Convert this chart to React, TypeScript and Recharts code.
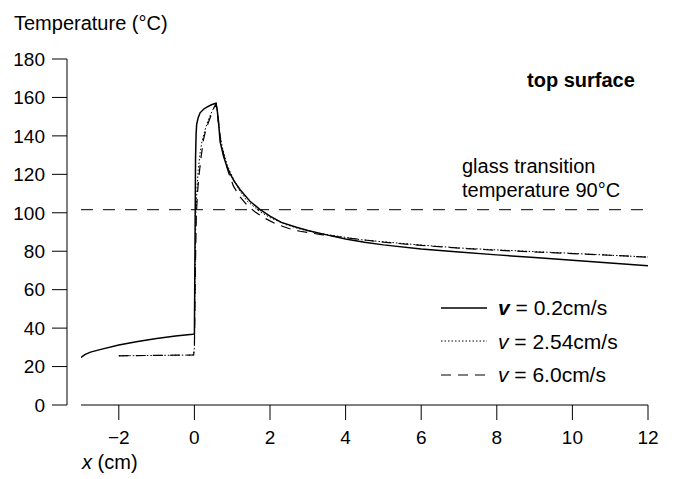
import { LineChart, Line, XAxis, YAxis, ReferenceLine, Legend } from "recharts";

const FONT = "'Liberation Sans', Arial, sans-serif";

// x positions (cm) and top-surface temperatures (°C)
const X_SLOW = [-3, -2.9, -2.75, -2.5, -2, -1.5, -1, -0.5, -0.05, 0, 0.015, 0.03, 0.045, 0.06, 0.1, 0.15, 0.25, 0.33, 0.45, 0.57, 0.6, 0.64, 0.68, 0.77, 0.86, 0.94, 1.05, 1.21, 1.47, 1.73, 2.0, 2.3, 2.7, 3.0, 3.5, 4, 4.5, 5, 6, 7, 8, 9, 10, 11, 12];
const T_SLOW = [24.7, 26.2, 27.5, 28.8, 31.2, 33.0, 34.6, 35.9, 36.8, 37.0, 80, 128, 141, 146, 149.5, 152, 154, 155, 156.2, 157, 154, 147, 137, 129.5, 124, 120.5, 116.5, 112, 106, 101.8, 98.3, 95, 92.5, 90.8, 88.5, 86.4, 84.7, 83.3, 81.2, 79.6, 78.1, 76.7, 75.3, 73.9, 72.5];

const X_MID = [-2, -1, -0.5, -0.02, 0, 0.02, 0.04, 0.07, 0.1, 0.15, 0.2, 0.28, 0.36, 0.46, 0.55, 0.58, 0.62, 0.68, 0.75, 0.85, 0.95, 1.05, 1.2, 1.4, 1.74, 2.0, 2.4, 2.8, 3.3, 4, 4.4, 5, 6, 7, 8, 9, 10, 11, 12];
const T_MID = [25.6, 25.8, 25.9, 26.0, 30, 75, 100, 113, 122, 131, 137, 143, 148, 152.5, 156, 157, 150, 140, 133, 126, 121, 117, 111.5, 106, 100.5, 97.5, 94, 91.5, 89.3, 87.2, 86, 84.9, 83.2, 81.7, 80.7, 79.8, 78.9, 77.9, 77];

const X_FAST = [-2, -1, -0.5, -0.02, 0, 0.025, 0.05, 0.08, 0.12, 0.17, 0.24, 0.3, 0.37, 0.5, 0.57, 0.6, 0.64, 0.7, 0.8, 0.9, 1.03, 1.2, 1.39, 1.6, 1.83, 2.18, 2.5, 2.79, 3.4, 4, 5, 6, 7, 8, 9, 10, 11, 12];
const T_FAST = [25.6, 25.8, 25.9, 26.0, 30, 70, 98, 110, 119, 128, 138, 143, 147, 154, 156.5, 153, 146, 137, 128, 121, 114, 108.5, 104, 100.5, 97.5, 94, 91.8, 90.4, 88.5, 87, 84.7, 83, 81.6, 80.5, 79.6, 78.8, 77.9, 76.9];

const X_TICKS = [-2, 0, 2, 4, 6, 8, 10, 12];
const Y_TICKS = [0, 20, 40, 60, 80, 100, 120, 140, 160, 180];
const GLASS_LINE = 101.6;

const toPoints = (xs: number[], ts: number[]) => xs.map((x, i) => ({ x, t: ts[i] }));

const series = [
  { name: "0.2cm/s", data: toPoints(X_SLOW, T_SLOW), dash: undefined, width: 1.5, bold: true },
  { name: "2.54cm/s", data: toPoints(X_MID, T_MID), dash: "1.5 2", width: 1, bold: false },
  { name: "6.0cm/s", data: toPoints(X_FAST, T_FAST), dash: "10 7", width: 1.2, bold: false },
];

const fmtX = (v: number) => (v < 0 ? `\u2212${Math.abs(v)}` : `${v}`);

const renderLegend = () => (
  <div style={{ fontFamily: FONT, fontSize: 21, color: "#000" }}>
    {series.map((s) => (
      <div key={s.name} style={{ display: "flex", alignItems: "center", height: 33.5 }}>
        <svg width={46} height={10}>
          <line x1={0} y1={5} x2={46} y2={5} stroke="#000" strokeWidth={s.width} strokeDasharray={s.dash} />
        </svg>
        <span style={{ marginLeft: 11, lineHeight: 1 }}>
          <i style={{ fontWeight: s.bold ? "bold" : "normal" }}>v</i> = {s.name}
        </span>
      </div>
    ))}
  </div>
);

const text = { position: "absolute" as const, fontFamily: FONT, fontSize: 20, lineHeight: "20px", color: "#000", whiteSpace: "nowrap" as const };

export default function App() {
  return (
    <div style={{ position: "absolute", left: 0, top: 0, width: 677, height: 479, background: "#fff" }}>
      <LineChart width={677} height={479} margin={{ top: 59, right: 29, bottom: 44, left: 7 }}>
        <XAxis
          type="number"
          dataKey="x"
          domain={[-3, 12]}
          ticks={X_TICKS}
          padding={{ left: 14, right: 0 }}
          axisLine={false}
          tickLine={{ stroke: "#000" }}
          tickSize={15}
          tickMargin={11}
          tick={{ fill: "#000", fontSize: 19, fontFamily: FONT }}
          tickFormatter={fmtX}
          height={30}
          allowDataOverflow
        />
        <YAxis
          type="number"
          domain={[0, 180]}
          ticks={Y_TICKS}
          width={60}
          axisLine={{ stroke: "#000" }}
          tickLine={{ stroke: "#000" }}
          tickSize={15}
          tickMargin={7}
          tick={{ fill: "#000", fontSize: 19, fontFamily: FONT }}
        />
        <ReferenceLine segment={[{ x: -3, y: 0 }, { x: 12, y: 0 }]} stroke="#000" />
        <ReferenceLine segment={[{ x: -3, y: GLASS_LINE }, { x: 12, y: GLASS_LINE }]} stroke="#000" strokeDasharray="12 10" />
        {series.map((s) => (
          <Line
            key={s.name}
            name={s.name}
            data={s.data}
            dataKey="t"
            type="linear"
            stroke="#000"
            strokeWidth={s.width}
            strokeDasharray={s.dash}
            dot={false}
            activeDot={false}
            isAnimationActive={false}
          />
        ))}
        <Legend
          layout="vertical"
          align="center"
          verticalAlign="middle"
          content={renderLegend}
          wrapperStyle={{ left: 441, top: 291, width: 220 }}
        />
      </LineChart>
      <div style={{ ...text, left: 14, top: 13 }}>Temperature (°C)</div>
      <div style={{ ...text, left: 527, top: 70, fontWeight: "bold" }}>top surface</div>
      <div style={{ ...text, left: 462, top: 154, lineHeight: "24px" }}>
        glass transition
        <br />
        temperature 90°C
      </div>
      <div style={{ ...text, left: 82, top: 452 }}>
        <i>x</i> (cm)
      </div>
    </div>
  );
}
